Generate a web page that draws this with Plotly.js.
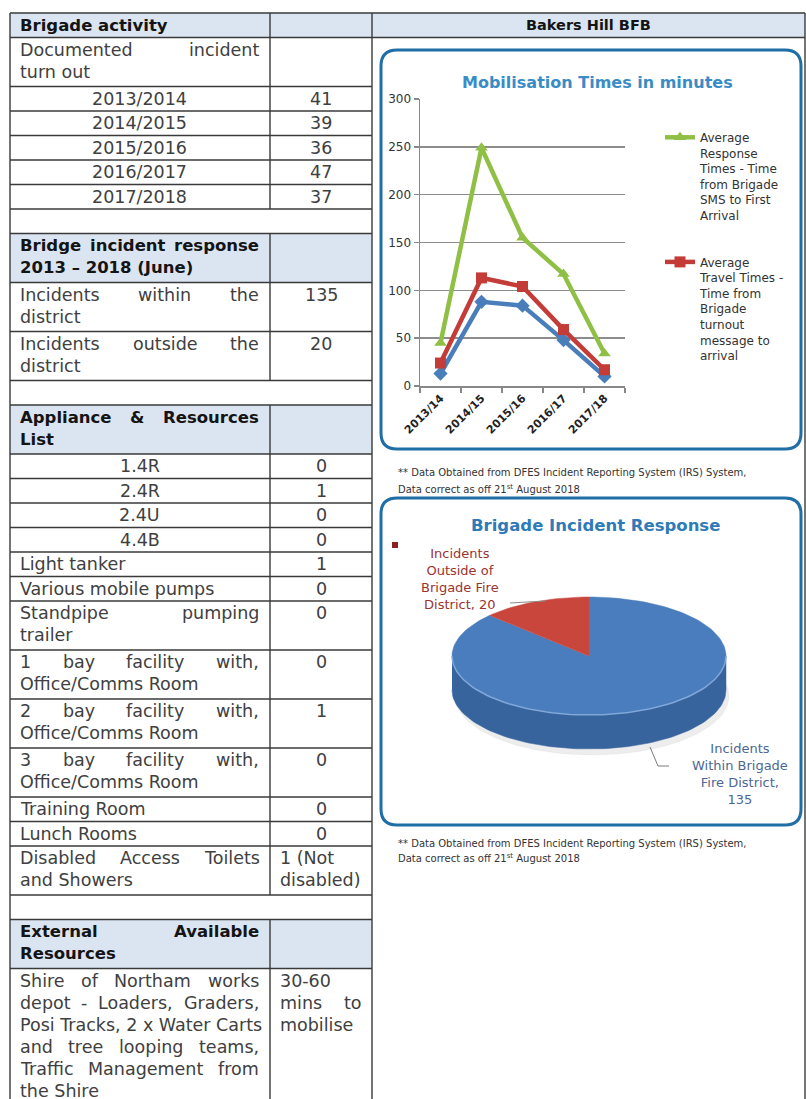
<!DOCTYPE html>
<html><head><meta charset="utf-8">
<script src="https://cdn.plot.ly/plotly-3.0.1.min.js"></script>
<style>html,body{margin:0;padding:0;overflow:hidden;background:#fff}</style>
</head><body><div id="chart" style="width:806px;height:1099px"></div>
<script>
// ---------------- DATA ----------------
const years = ['2013/14', '2014/15', '2015/16', '2016/17', '2017/18'];
const responseTimes = [45, 249, 155, 117, 34];
const travelTimes = [24, 113, 104, 59, 17];
const turnoutTimes = [13, 88, 84, 48, 10];
const seriesNames = [
  'Average Response Times - Time from Brigade SMS to First Arrival',
  'Average Travel Times - Time from Brigade turnout message to arrival',
  'Average Turnout Times'
];
const pieLabels = ['Incidents Within Brigade Fire District', 'Incidents Outside of Brigade Fire District'];
const pieValues = [135, 20];

const tableLabels = [
  'Brigade activity',
  'Documented incident\nturn out',
  '2013/2014', '2014/2015', '2015/2016', '2016/2017', '2017/2018',
  '',
  'Bridge incident response\n2013 – 2018 (June)',
  'Incidents within the\ndistrict',
  'Incidents outside the\ndistrict',
  '',
  'Appliance & Resources\nList',
  '1.4R', '2.4R', '2.4U', '4.4B',
  'Light tanker',
  'Various mobile pumps',
  'Standpipe pumping\ntrailer',
  '1 bay facility with,\nOffice/Comms Room',
  '2 bay facility with,\nOffice/Comms Room',
  '3 bay facility with,\nOffice/Comms Room',
  'Training Room',
  'Lunch Rooms',
  'Disabled Access Toilets\nand Showers',
  '',
  'External Available\nResources',
  'Shire of Northam works\ndepot - Loaders, Graders,\nPosi Tracks, 2 x Water Carts\nand tree looping teams,\nTraffic Management from\nthe Shire'
];
const tableValues = [
  '', '',
  '41', '39', '36', '47', '37',
  '',
  '', '135', '20',
  '',
  '', '0', '1', '0', '0', '1', '0', '0', '0', '1', '0', '0', '0', '1 (Not\ndisabled)',
  '',
  '', '30-60\nmins to\nmobilise'
];
const rightHeader = 'Bakers Hill BFB';
const chartTitle = 'Mobilisation Times in minutes';
const pieTitle = 'Brigade Incident Response';
const footnoteLines = ['** Data Obtained from DFES Incident Reporting System (IRS) System,', 'Data correct as off 21<sup>st</sup> August 2018'];

// row kinds (styling only)
const rowKinds = ['head','para','center','center','center','center','center','blank','head','para','para','blank','head',
  'center','center','center','center','para','para','para','para','para','para','para','para','para','blank','head','para'];
const valueAlign = tableValues.map(v => v.indexOf('mins') >= 0 ? 'j' : (v.indexOf('\n') >= 0 ? 'l' : 'c'));

// ---------------- LAYOUT HELPERS ----------------
const W = 806, H = 1099;
const FAM = 'DejaVu Sans';
const ctx = document.createElement('canvas').getContext('2d');
function measure(s, f) { ctx.font = (f.weight === 'bold' ? 'bold ' : '') + f.size + 'px "' + FAM + '"'; return ctx.measureText(s).width; }
function wrap(text, f, maxW) {
  const words = text.split(' '); const lines = []; let cur = '';
  words.forEach(w => { const t = cur ? cur + ' ' + w : w; if (cur && measure(t, f) > maxW) { lines.push(cur); cur = w; } else cur = t; });
  if (cur) lines.push(cur); return lines;
}
const annotations = [];
const fills = [], lines = [];
function ann(text, x, y, xanchor, font, extra) {
  annotations.push(Object.assign({text, x, y, xref: 'x2', yref: 'y2', xanchor, yanchor: 'middle', showarrow: false,
    borderpad: 0, borderwidth: 0, font: Object.assign({family: FAM}, font)}, extra || {}));
}
function placeLine(text, x0, x1, y, f, mode) {
  if (mode === 'center') { ann(text, (x0 + x1) / 2, y, 'center', f); return; }
  const words = text.split(' ').filter(Boolean);
  if (mode === 'justify' && words.length > 1) {
    const ws = words.map(w => measure(w, f));
    const tot = ws.reduce((a, b) => a + b, 0);
    const gap = (x1 - x0 - tot) / (words.length - 1);
    if (gap >= measure(' ', f) * 0.9) {
      let cx = x0;
      words.forEach((w, k) => { ann(w, cx, y, 'left', f); cx += ws[k] + gap; });
      return;
    }
  }
  ann(text, x0, y, 'left', f);
}
function line(x0, y0, x1, y1, color, width) {
  lines.push({type: 'line', xref: 'x2', yref: 'y2', x0, y0, x1, y1, line: {color: color || '#3a3a3a', width: width || 1.4}});
}

// ---------------- TABLE ----------------
const TX0 = 10, TX1 = 270, TX2 = 372, TX3 = 805, TOP = 13, LINE = 24.5, TLH = 22;
const bodyFont = {size: 17.5, color: '#404040'};
const headFont = {size: 16.5, color: '#141414', weight: 'bold'};
const HEADFILL = '#dbe5f1';
let y = TOP;
line(TX0, TOP, TX3, TOP);
tableLabels.forEach((lab, i) => {
  const kind = rowKinds[i];
  const labLines = lab ? lab.split('\n') : [];
  const valLines = tableValues[i] ? tableValues[i].split('\n') : [];
  const n = Math.max(1, labLines.length, valLines.length);
  const h = n * LINE;
  if (kind === 'head') fills.push({type: 'rect', xref: 'x2', yref: 'y2', x0: TX0, x1: TX2, y0: y, y1: y + h, fillcolor: HEADFILL, line: {width: 0}});
  if (kind !== 'blank') line(TX1, y, TX1, y + h);
  const f = kind === 'head' ? headFont : bodyFont;
  const firstY = y + LINE / 2;
  labLines.forEach((ln, k) => {
    const mode = kind === 'center' ? 'center' : (k < labLines.length - 1 ? 'justify' : 'left');
    placeLine(ln, 20, 259, firstY + k * TLH, f, mode);
  });
  valLines.forEach((ln, k) => {
    const a = valueAlign[i];
    const mode = a === 'c' ? 'center' : (a === 'j' && k < valLines.length - 1 ? 'justify' : 'left');
    placeLine(ln, 280, 362, firstY + k * TLH, bodyFont, mode);
  });
  y += h;
  line(TX0, y, TX2, y);
});
// right column
fills.push({type: 'rect', xref: 'x2', yref: 'y2', x0: TX2, x1: TX3, y0: TOP, y1: TOP + LINE, fillcolor: HEADFILL, line: {width: 0}});
line(TX2, TOP + LINE, TX3, TOP + LINE);
[TX0, TX2, TX3].forEach(x => line(x, TOP, x, H + 20));
ann(rightHeader, (TX2 + TX3) / 2, TOP + LINE / 2, 'center', {size: 14.5, color: '#141414', weight: 'bold'});

// ---------------- BOXES ----------------
function roundRect(x0, y0, x1, y1, r) {
  return `M${x0 + r},${y0} L${x1 - r},${y0} Q${x1},${y0} ${x1},${y0 + r} L${x1},${y1 - r} Q${x1},${y1} ${x1 - r},${y1} L${x0 + r},${y1} Q${x0},${y1} ${x0},${y1 - r} L${x0},${y0 + r} Q${x0},${y0} ${x0 + r},${y0} Z`;
}
const boxLine = {color: '#1f6ea6', width: 3};
lines.push({type: 'path', xref: 'x2', yref: 'y2', path: roundRect(381, 50, 801, 449, 16), line: boxLine});
lines.push({type: 'path', xref: 'x2', yref: 'y2', path: roundRect(381, 498, 801, 825, 16), line: boxLine});
ann(chartTitle, 597, 82, 'center', {size: 16, color: '#3a8cc6', weight: 'bold'});
ann(pieTitle, 595, 525, 'center', {size: 16.5, color: '#2f7ab8', weight: 'bold'});
const footFont = {size: 10, color: '#333'};
ann(footnoteLines[0], 398, 472, 'left', footFont);
ann(footnoteLines[1], 398, 489, 'left', footFont);
ann(footnoteLines[0], 398, 843, 'left', footFont);
ann(footnoteLines[1], 398, 858, 'left', footFont);

// ---------------- LINE CHART ----------------
const legFont = {family: FAM, size: 12, color: '#333'};
const lineTraces = [
  {x: years, y: turnoutTimes, name: seriesNames[2], color: '#4a7ebb', symbol: 'diamond', show: false, rank: 3},
  {x: years, y: travelTimes, name: seriesNames[1], color: '#c43c37', symbol: 'square', show: true, rank: 2},
  {x: years, y: responseTimes, name: seriesNames[0], color: '#8fc045', symbol: 'triangle-up', show: true, rank: 1}
].map(s => ({
  type: 'scatter', mode: 'lines+markers', x: s.x, y: s.y, xaxis: 'x', yaxis: 'y',
  name: wrap(s.name, legFont, 88).join('<br>'), showlegend: s.show, legendgroup: 'g' + s.rank, legendrank: s.rank,
  line: {color: s.color, width: 4.5}, marker: {symbol: s.symbol, size: 11, color: s.color}, hoverinfo: 'skip', cliponaxis: false
}));

// ---------------- PIE (tilted 3D look) ----------------
const PCX = 589, PCY = 656, PRX = 137, PRY = 59, DEPTH = 34;
const pieTop = ['#4a7dbd', '#c9463d'];
const pieSide = ['#38649e', '#9a2f2a'];
const rad = Math.PI / 180;
function ep(a, dy) { return [PCX + PRX * Math.cos(a * rad), PCY - PRY * Math.sin(a * rad) + (dy || 0)]; }
function arc(a0, a1, dy) { const pts = []; const n = Math.max(2, Math.ceil(Math.abs(a1 - a0) / 2)); for (let k = 0; k <= n; k++) pts.push(ep(a0 + (a1 - a0) * k / n, dy)); return pts; }
function poly(pts, color, lw, lc) {
  return {type: 'scatter', mode: 'lines', xaxis: 'x2', yaxis: 'y2', x: pts.map(p => p[0]), y: pts.map(p => p[1]),
    fill: lw === undefined ? 'toself' : 'none', fillcolor: color, line: {color: lc || color, width: lw === undefined ? 0.5 : lw},
    showlegend: false, hoverinfo: 'skip'};
}
const total = pieValues.reduce((a, b) => a + b, 0);
let ang = 90;
const slices = pieValues.map(v => { const a0 = ang; const a1 = ang - v / total * 360; ang = a1; return {a0, a1}; });
const pieTraces = [];
pieTraces.push(poly(arc(0, 360, DEPTH + 6).map(p => [p[0] + 3, p[1]]), 'rgba(0,0,0,0.07)'));
slices.forEach((s, i) => {
  for (let k = -1; k <= 1; k++) {
    const lo = Math.max(s.a1, -180 + 360 * k), hi = Math.min(s.a0, 360 * k);
    if (hi > lo) pieTraces.push(poly(arc(lo, hi, 0).concat(arc(hi, lo, DEPTH)), pieSide[i]));
  }
});
slices.forEach((s, i) => pieTraces.push(poly([[PCX, PCY]].concat(arc(s.a0, s.a1, 0)), pieTop[i])));
pieTraces.push(poly(arc(180, 360, 0), null, 1.5, 'rgba(150,185,230,0.7)'));

const pieFont = {size: 13};
ann(wrap(pieLabels[1] + ', ' + pieValues[1], Object.assign({}, pieFont), 100).join('<br>'), 460, 579, 'center', Object.assign({color: '#9a3330'}, pieFont), {align: 'center'});
ann(wrap(pieLabels[0] + ', ' + pieValues[0], Object.assign({}, pieFont), 100).join('<br>'), 740, 774, 'center', Object.assign({color: '#4d6793'}, pieFont), {align: 'center'});
line(510, 603, 545, 601, '#8a8a8a', 1);
lines.push({type: 'path', xref: 'x2', yref: 'y2', path: 'M650,747 L658,766 L669,766', line: {color: '#7a7a7a', width: 1}});
fills.push({type: 'rect', xref: 'x2', yref: 'y2', x0: 392, x1: 398, y0: 542, y1: 548, fillcolor: '#8b2222', line: {width: 0}});

// ---------------- PLOT ----------------
const layout = {
  width: W, height: H, margin: {l: 0, r: 0, t: 0, b: 0}, paper_bgcolor: '#fff', plot_bgcolor: 'rgba(0,0,0,0)',
  hovermode: false, dragmode: false, showlegend: true,
  xaxis: {domain: [420 / W, 625 / W], anchor: 'y', type: 'category', range: [-0.5, 4.5], tickson: 'boundaries',
    ticks: 'outside', ticklen: 5, tickcolor: '#888', tickwidth: 1.5, showline: true, linecolor: '#888', linewidth: 1.5,
    showgrid: false, zeroline: false, tickangle: -45, tickfont: {family: FAM, size: 11, color: '#222', weight: 'bold'}, fixedrange: true},
  yaxis: {domain: [1 - 386 / H, 1 - 99 / H], anchor: 'x', range: [0, 300], dtick: 50, ticks: 'outside', ticklen: 5,
    tickcolor: '#888', tickwidth: 1.5, showline: true, linecolor: '#888', linewidth: 1.5, gridcolor: '#8c8c8c', gridwidth: 1.5,
    zeroline: false, tickfont: {family: FAM, size: 12, color: '#333'}, fixedrange: true},
  xaxis2: {domain: [0, 1], anchor: 'y2', range: [0, W], visible: false, fixedrange: true},
  yaxis2: {domain: [0, 1], anchor: 'x2', range: [H, 0], visible: false, fixedrange: true},
  legend: {x: 660 / W, xanchor: 'left', y: 1 - 123 / H, yanchor: 'top', font: legFont, bgcolor: 'rgba(0,0,0,0)',
    tracegroupgap: 28, traceorder: 'grouped', valign: 'top', itemwidth: 30},
  shapes: fills.concat(lines),
  annotations: annotations
};
Plotly.newPlot('chart', pieTraces.concat(lineTraces), layout, {staticPlot: true, displayModeBar: false});
</script></body></html>
